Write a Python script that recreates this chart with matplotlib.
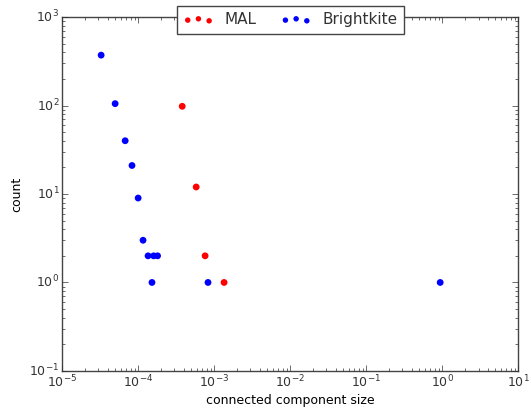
import numpy as np
import matplotlib
matplotlib.use('Agg')
import matplotlib.pyplot as plt

plt.style.use('classic')

# connected component size (fraction) vs count
mal_size = [3.8e-4, 5.8e-4, 7.6e-4, 1.35e-3]
mal_count = [98, 12, 2, 1]

bk_size = [3.26e-5, 4.98e-5, 6.75e-5, 8.3e-5, 1.0e-4, 1.16e-4, 1.35e-4,
           1.6e-4, 1.8e-4, 1.52e-4, 8.3e-4, 0.94]
bk_count = [371, 105, 40, 21, 9, 3, 2, 2, 2, 1, 1, 1]

txt = '#333333'
plt.rcParams['text.color'] = txt
plt.rcParams['xtick.color'] = txt
plt.rcParams['ytick.color'] = txt
plt.rcParams['axes.edgecolor'] = '#444444'

fig = plt.figure(figsize=(5.31, 4.11), dpi=100)
fig.patch.set_facecolor('white')
ax = fig.add_axes([0.117, 0.0975, 0.859, 0.861])

ax.scatter(mal_size, mal_count, s=24, c='red', edgecolors='none', label='MAL')
ax.scatter(bk_size, bk_count, s=24, c='blue', edgecolors='none', label='Brightkite')

ax.set_xscale('log')
ax.set_yscale('log')
ax.set_xlim(1e-5, 1e1)
ax.set_ylim(1e-1, 1e3)
ax.tick_params(labelsize=9, pad=2)
ax.set_xlabel('connected component size', fontsize=9, labelpad=3)
ax.set_ylabel('count', fontsize=9, labelpad=4)

ax.legend(loc='upper center', bbox_to_anchor=(0.5, 1.032), ncol=2,
          scatterpoints=3, fontsize=11, borderaxespad=0, handletextpad=0.7,
          columnspacing=1.6, markerscale=0.8, borderpad=0.42)

fig.savefig('out.png', dpi=100, facecolor='white')
